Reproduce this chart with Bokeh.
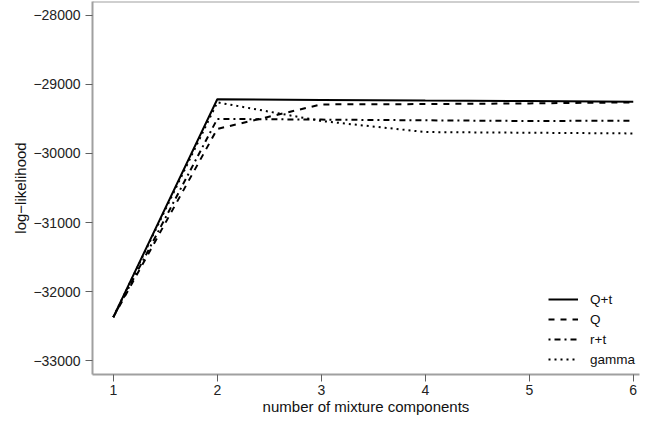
from bokeh.plotting import figure
from bokeh.models import FixedTicker, Range1d, Span, Legend, LegendItem
from bokeh.embed import file_html
from bokeh.resources import INLINE

components = [1, 2, 3, 4, 5, 6]
q_t = [-32370, -29215, -29225, -29235, -29240, -29250]
q = [-32370, -29645, -29290, -29285, -29275, -29260]
r_t = [-32370, -29500, -29510, -29520, -29530, -29525]
gamma = [-32370, -29260, -29530, -29690, -29700, -29710]

series_names = ["Q+t", "Q", "r+t", "gamma"]
y_ticks = [-33000, -32000, -31000, -30000, -29000, -28000]
x_ticks = [1, 2, 3, 4, 5, 6]

FONT = "Liberation Sans"
Y_START, Y_END = -33200, -27800
X_START, X_END = 0.8, 6.06

p = figure(width=640, height=417, output_backend="svg", toolbar_location=None,
           x_range=Range1d(X_START, X_END), y_range=Range1d(Y_START, Y_END),
           min_border_left=92, min_border_right=1, min_border_top=1, min_border_bottom=41)

p.grid.visible = False
p.outline_line_color = None
p.background_fill_color = "white"
p.border_fill_color = "white"

styles = [("solid", q_t), ("6 6", q), ("2 4 6 4", r_t), ("2 4", gamma)]
renderers = []
for dash, ys in styles:
    r = p.line(components, ys, line_color="black", line_width=2, line_dash=dash)
    renderers.append(r)

for ax in (p.xaxis[0], p.yaxis[0]):
    ax.axis_line_color = "#a0a0a0"
    ax.axis_line_width = 2
    ax.major_tick_line_color = "#606060"
    ax.major_tick_line_width = 1
    ax.major_tick_out = 7
    ax.major_tick_in = 0
    ax.minor_tick_line_color = None
    ax.major_label_text_font = FONT
    ax.major_label_text_font_size = "14px"
    ax.major_label_text_color = "#222222"
    ax.axis_label_text_font = FONT
    ax.axis_label_text_font_size = "15px"
    ax.axis_label_text_font_style = "normal"
    ax.axis_label_text_color = "#111111"

p.xaxis[0].ticker = FixedTicker(ticks=x_ticks)
p.yaxis[0].ticker = FixedTicker(ticks=y_ticks)
p.yaxis[0].major_label_orientation = "horizontal"
p.yaxis[0].major_label_overrides = {t: "\u2212" + str(abs(t)) for t in y_ticks}
p.yaxis[0].major_label_standoff = 5
p.xaxis[0].major_label_standoff = 3
p.yaxis[0].axis_label = "log\u2212likelihood"
p.xaxis[0].axis_label = "number of mixture components"
p.yaxis[0].axis_label_standoff = 1
p.xaxis[0].axis_label_standoff = 0

top = Span(location=Y_END, dimension="width", line_color="#a0a0a0", line_width=2)
p.add_layout(top)

legend = Legend(items=[LegendItem(label=n, renderers=[r]) for n, r in zip(series_names, renderers)],
                location=(456, 5), orientation="vertical",
                border_line_color=None, background_fill_alpha=0,
                padding=0, margin=0, spacing=0,
                label_height=20, glyph_height=20, glyph_width=30, label_standoff=12,
                label_text_font=FONT, label_text_font_size="13.5px", label_text_color="#111111")
p.add_layout(legend)

open("out.html", "w").write(file_html(p, INLINE))
